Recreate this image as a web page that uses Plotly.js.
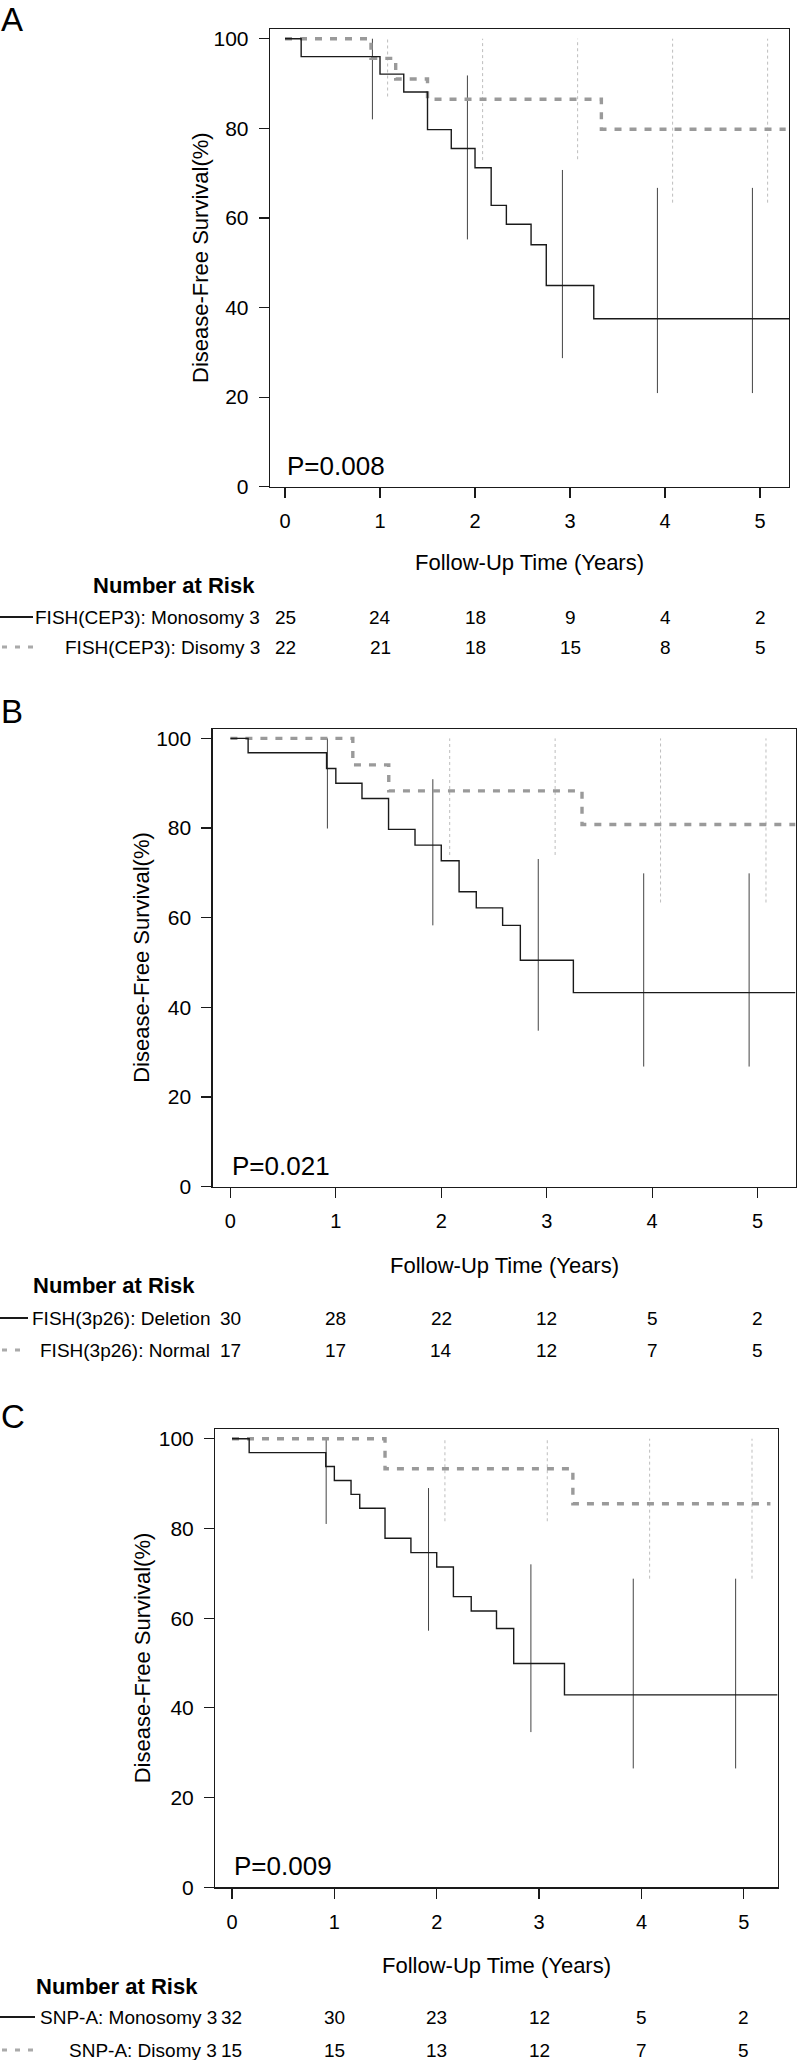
<!DOCTYPE html>
<html>
<head>
<meta charset="utf-8">
<script src="https://cdn.plot.ly/plotly-3.0.1.min.js"></script>
<style>html,body{margin:0;padding:0;background:#fff;}#chart{width:797px;height:2060px;}</style>
</head>
<body>
<div id="chart"></div>
<script>
// ---------------- DATA ----------------
const years = [0, 1, 2, 3, 4, 5];
const ciYears = [1, 2, 3, 4, 5];
const yTicks = [0, 20, 40, 60, 80, 100];

// Panel A: FISH(CEP3)
const A_mono_t = [0, 0.17, 1.0, 1.25, 1.5, 1.75, 2.0, 2.17, 2.33, 2.59, 2.75, 3.25, 5.31];
const A_mono_s = [100, 96.0, 92.1, 88.1, 79.7, 75.5, 71.2, 62.8, 58.6, 54.0, 44.9, 37.5, 37.5];
const A_di_t = [0, 0.905, 1.165, 1.5, 3.33, 5.27];
const A_di_s = [100, 95.6, 91.0, 86.5, 79.8, 79.8];
const A_mono_ciLo = [82.0, 55.2, 28.7, 20.9, 20.9];
const A_mono_ciHi = [100, 91.8, 70.7, 66.7, 66.7];
const A_di_ciLo = [87.1, 72.9, 73.1, 63.4, 63.4];
const A_di_ciHi = [100, 100, 100, 100, 100];
const A_mono_risk = [25, 24, 18, 9, 4, 2];
const A_di_risk = [22, 21, 18, 15, 8, 5];
const A_labels = ["FISH(CEP3): Monosomy 3", "FISH(CEP3): Disomy 3"];
const A_p = "P=0.008";

// Panel B: FISH(3p26)
const B_del_t = [0, 0.168, 0.912, 1.0, 1.248, 1.5, 1.751, 2.0, 2.169, 2.332, 2.582, 2.75, 3.253, 5.36];
const B_del_s = [100, 96.8, 93.3, 90.0, 86.6, 79.7, 76.2, 72.7, 65.8, 62.2, 58.3, 50.5, 43.3, 43.3];
const B_nor_t = [0, 1.161, 1.502, 3.335, 5.36];
const B_nor_s = [100, 94.1, 88.3, 80.8, 80.8];
const B_del_ciLo = [79.9, 58.3, 34.8, 26.8, 26.8];
const B_del_ciHi = [100, 90.9, 73.1, 69.9, 69.9];
const B_nor_ciLo = [100, 74.0, 74.0, 63.4, 63.4];
const B_nor_ciHi = [100, 100, 100, 100, 100];
const B_del_risk = [30, 28, 22, 12, 5, 2];
const B_nor_risk = [17, 17, 14, 12, 7, 5];
const B_labels = ["FISH(3p26): Deletion", "FISH(3p26): Normal"];
const B_p = "P=0.021";

// Panel C: SNP-A
const C_mono_t = [0, 0.168, 0.916, 1.0, 1.163, 1.248, 1.495, 1.748, 2.0, 2.163, 2.337, 2.584, 2.752, 3.248, 5.33];
const C_mono_s = [100, 96.9, 93.8, 90.7, 87.6, 84.5, 77.8, 74.6, 71.4, 64.8, 61.6, 57.7, 49.9, 42.9, 42.9];
const C_di_t = [0, 1.495, 3.33, 5.26];
const C_di_s = [100, 93.3, 85.5, 85.5];
const C_mono_ciLo = [81.0, 57.2, 34.6, 26.5, 26.5];
const C_mono_ciHi = [100, 89.0, 72.0, 68.8, 68.8];
const C_di_ciLo = [100, 81.6, 81.6, 68.8, 68.8];
const C_di_ciHi = [100, 100, 100, 100, 100];
const C_mono_risk = [32, 30, 23, 12, 5, 2];
const C_di_risk = [15, 15, 13, 12, 7, 5];
const C_labels = ["SNP-A: Monosomy 3", "SNP-A: Disomy 3"];
const C_p = "P=0.009";

const panelLetters = ["A", "B", "C"];
const xTitle = "Follow-Up Time (Years)";
const yTitle = "Disease-Free Survival(%)";
const riskTitle = "Number at Risk";

// ---------------- LAYOUT / STYLE ----------------
const W = 797, H = 2060;
const FONT = "Liberation Sans, Arial, Helvetica, sans-serif";
const BLACK = "#1a1a1a", GRAY = "#9a9a9a";
const CI_OFF = 0.08;
const px = v => v / W;
const py = v => 1 - v / H;

const panels = [
  {data: {mt: A_mono_t, ms: A_mono_s, dt: A_di_t, ds: A_di_s, mlo: A_mono_ciLo, mhi: A_mono_ciHi, dlo: A_di_ciLo, dhi: A_di_ciHi, mr: A_mono_risk, dr: A_di_risk, labels: A_labels, p: A_p},
   box: [270, 29.3, 789, 486.7], xr: [-0.158, 5.305], letterTop: 0, yTitleX: 200, xTitleY: 563, pY: 465.5,
   narX: 174, narY: 585, r1: 617, r2: 647, labRight: 262, seg1: 33, seg2: 36},
  {data: {mt: B_del_t, ms: B_del_s, dt: B_nor_t, ds: B_nor_s, mlo: B_del_ciLo, mhi: B_del_ciHi, dlo: B_nor_ciLo, dhi: B_nor_ciHi, mr: B_del_risk, dr: B_nor_risk, labels: B_labels, p: B_p},
   box: [212.7, 729, 795.5, 1186.7], xr: [-0.168, 5.36], letterTop: 692, yTitleX: 142, xTitleY: 1265, pY: 1166,
   narX: 114, narY: 1285, r1: 1318, r2: 1350, labRight: 212, seg1: 28, seg2: 24},
  {data: {mt: C_mono_t, ms: C_mono_s, dt: C_di_t, ds: C_di_s, mlo: C_mono_ciLo, mhi: C_mono_ciHi, dlo: C_di_ciLo, dhi: C_di_ciHi, mr: C_mono_risk, dr: C_di_risk, labels: C_labels, p: C_p},
   box: [215.3, 1429.3, 777.6, 1887.3], xr: [-0.163, 5.33], letterTop: 1397, yTitleX: 142, xTitleY: 1965, pY: 1866,
   narX: 116.5, narY: 1986, r1: 2017, r2: 2050, labRight: 219, seg1: 35, seg2: 38}
];

const traces = [];
const annotations = [];
const shapes = [];
const layout = {
  width: W, height: H, margin: {l: 0, r: 0, t: 0, b: 0},
  paper_bgcolor: "#fff", plot_bgcolor: "#fff", showlegend: false,
  font: {family: FONT, color: "#000", size: 20}
};

function ciTrace(lo, hi, off, xa, ya, color, dash) {
  const x = [], y = [];
  ciYears.forEach((t, i) => { x.push(t + off, t + off, null); y.push(lo[i], hi[i], null); });
  return {type: "scatter", mode: "lines", x, y, xaxis: xa, yaxis: ya, hoverinfo: "skip",
          line: {color, width: 1, dash}};
}

panels.forEach((P, k) => {
  const n = k + 1;
  const xa = "x" + (n === 1 ? "" : n), ya = "y" + (n === 1 ? "" : n);
  const xk = "xaxis" + (n === 1 ? "" : n), yk = "yaxis" + (n === 1 ? "" : n);
  const [bl, bt, br, bb] = P.box;
  const D = P.data;
  layout[xk] = {
    domain: [px(bl), px(br)], anchor: ya, range: P.xr, tickvals: years, ticktext: years.map(String),
    ticks: "outside", ticklen: 10, tickwidth: 1.2, tickcolor: BLACK, showgrid: false, zeroline: false,
    showline: true, mirror: true, linecolor: BLACK, linewidth: 1.3,
    tickfont: {family: FONT, size: 20, color: "#000"}, ticklabelstandoff: 6, fixedrange: true
  };
  layout[yk] = {
    domain: [py(bb), py(bt)], anchor: xa, range: [0, 102.1], tickvals: yTicks,
    ticks: "outside", ticklen: 10, tickwidth: 1.2, tickcolor: BLACK, showgrid: false, zeroline: false,
    showline: true, mirror: true, linecolor: BLACK, linewidth: 1.3,
    tickfont: {family: FONT, size: 21, color: "#000"}, ticklabelstandoff: 6, fixedrange: true
  };
  // CI bars
  traces.push(ciTrace(D.dlo, D.dhi, CI_OFF, xa, ya, "#bdbdbd", "dot"));
  traces.push(ciTrace(D.mlo, D.mhi, -CI_OFF, xa, ya, "#444", "solid"));
  // survival curves
  traces.push({type: "scatter", mode: "lines", x: D.dt, y: D.ds, xaxis: xa, yaxis: ya,
               line: {shape: "hv", color: GRAY, width: 3.4, dash: "7px,8px"}, hoverinfo: "skip"});
  traces.push({type: "scatter", mode: "lines", x: D.mt, y: D.ms, xaxis: xa, yaxis: ya,
               line: {shape: "hv", color: BLACK, width: 1.4}, hoverinfo: "skip"});

  // panel letter
  annotations.push({text: panelLetters[k], xref: "paper", yref: "paper", x: px(0), y: py(P.letterTop),
    xanchor: "left", yanchor: "top", showarrow: false, borderpad: 0, font: {family: FONT, size: 33, color: "#000"}});
  // y title
  annotations.push({text: yTitle, xref: "paper", yref: "paper", x: px(P.yTitleX), y: py((bt + bb) / 2),
    textangle: -90, xanchor: "center", yanchor: "middle", showarrow: false, font: {family: FONT, size: 22, color: "#000"}});
  // x title
  annotations.push({text: xTitle, xref: "paper", yref: "paper", x: px((bl + br) / 2), y: py(P.xTitleY),
    xanchor: "center", yanchor: "middle", showarrow: false, font: {family: FONT, size: 22, color: "#000"}});
  // p-value
  annotations.push({text: D.p, xref: xa, yref: "paper", x: 0, y: py(P.pY),
    xanchor: "left", yanchor: "middle", showarrow: false, font: {family: FONT, size: 26, color: "#000"}});
  // risk table title
  annotations.push({text: "<b>" + riskTitle + "</b>", xref: "paper", yref: "paper", x: px(P.narX), y: py(P.narY),
    xanchor: "center", yanchor: "middle", showarrow: false, font: {family: FONT, size: 22, color: "#000"}});
  // risk rows
  [[D.labels[0], D.mr, P.r1], [D.labels[1], D.dr, P.r2]].forEach(([lab, vals, ry]) => {
    annotations.push({text: lab, xref: "paper", yref: "paper", x: px(P.labRight), y: py(ry),
      xanchor: "right", yanchor: "middle", showarrow: false, font: {family: FONT, size: 19, color: "#000"}});
    vals.forEach((v, i) => annotations.push({text: String(v), xref: xa, yref: "paper", x: years[i], y: py(ry),
      xanchor: "center", yanchor: "middle", showarrow: false, font: {family: FONT, size: 19, color: "#000"}}));
  });
  // legend samples
  shapes.push({type: "line", xref: "paper", yref: "paper", x0: px(0), x1: px(P.seg1), y0: py(P.r1), y1: py(P.r1),
    line: {color: BLACK, width: 2}});
  shapes.push({type: "line", xref: "paper", yref: "paper", x0: px(2), x1: px(P.seg2), y0: py(P.r2), y1: py(P.r2),
    line: {color: "#aaaaaa", width: 3, dash: "5px,8px"}});
});

layout.annotations = annotations;
layout.shapes = shapes;
Plotly.newPlot("chart", traces, layout, {staticPlot: true, displayModeBar: false});
</script>
</body>
</html>
